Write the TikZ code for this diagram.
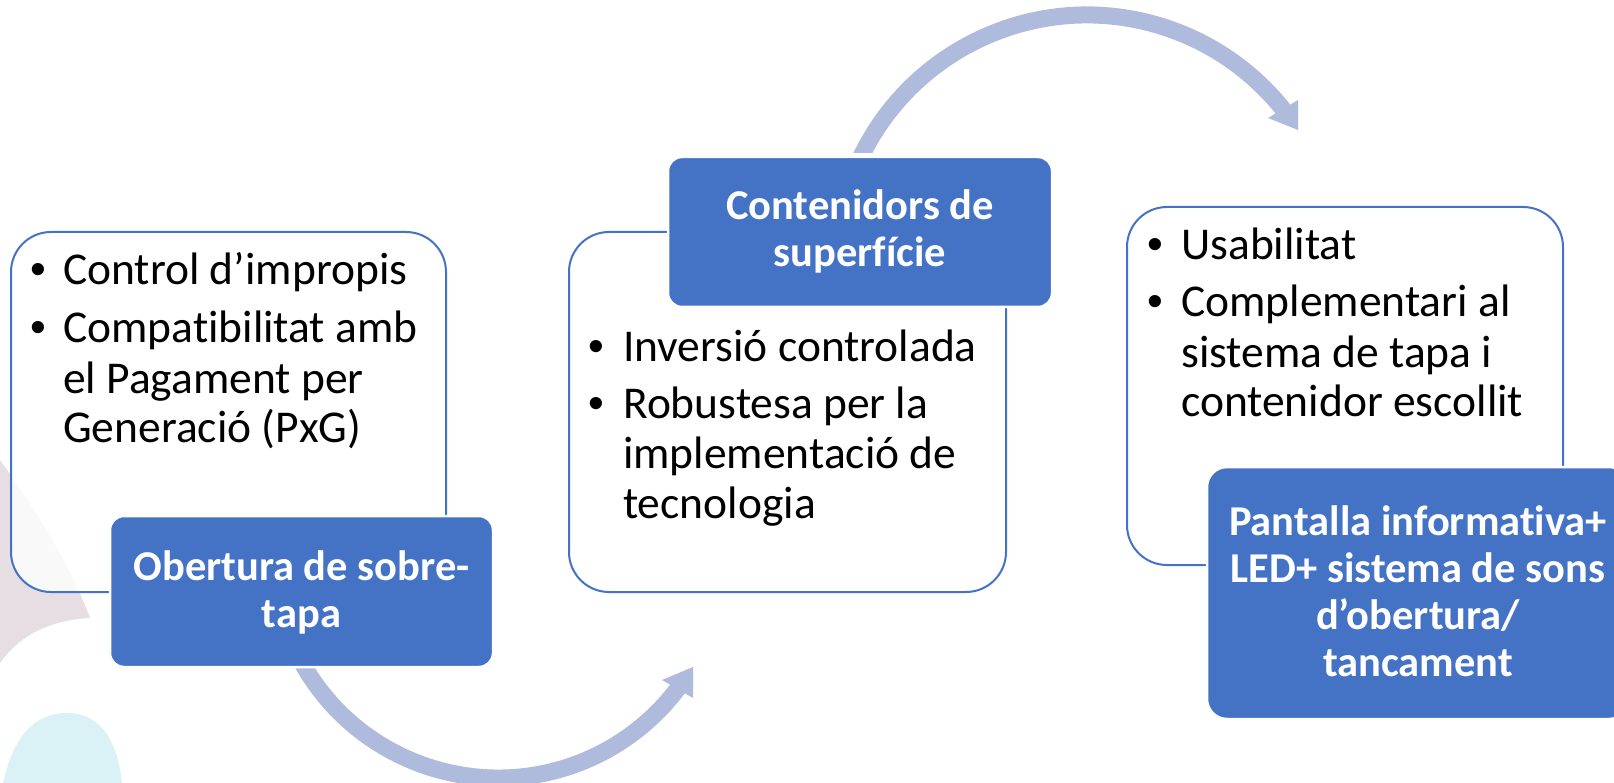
\documentclass[tikz,border=0pt]{standalone}
\usepackage{fontspec}
\setmainfont{Carlito}[Ligatures={NoCommon}]
\newfontfamily\bulletfont{Liberation Sans}
\definecolor{boxblue}{HTML}{4472C4}
\definecolor{arrowcol}{RGB}{175,187,220}
\definecolor{pinkbg}{RGB}{231,222,228}
\definecolor{cyanbg}{RGB}{218,241,245}
\tikzset{
  whitebox/.style={draw=boxblue, line width=2pt, fill=white, fill opacity=0.82, rounded corners=40pt, inner sep=0pt},
  bluebox/.style={draw=white, line width=2.5pt, fill=boxblue, rounded corners=14pt, inner sep=0pt},
  band/.style={draw=arrowcol, line width=17pt, line cap=butt},
  headfill/.style={fill=arrowcol, draw=none},
  bodytxt/.style={anchor=base west, inner sep=0pt, font=\fontsize{45.5}{50}\selectfont},
  bultxt/.style={anchor=base, inner sep=0pt, font=\bulletfont\fontsize{45}{50}\selectfont},
  headtxt/.style={anchor=base, inner sep=0pt, text=white, font=\bfseries\fontsize{42.5}{47}\selectfont}
}
\begin{document}
\begin{tikzpicture}[x=1pt,y=-1pt]
\useasboundingbox (0,0) rectangle (1614,783);
\clip (0,0) rectangle (1614,783);
\fill[white] (0,0) rectangle (1614,783);
% background decorations
\fill[pinkbg] (0,460) .. controls (40,515) and (72,570) .. (90,618)
  .. controls (50,620) and (20,635) .. (0,663) -- cycle;
\fill[cyanbg] (3,783) .. controls (14,735) and (35,713) .. (67,713)
  .. controls (103,713) and (118,745) .. (122,783) -- cycle;
% bottom curved arrow
\coordinate (bc) at (498.3,553.2);
\begin{scope}
  \clip (0,668) rectangle (1614,783);
  \draw[band] (bc) ++(156:224.8) arc[start angle=156, end angle=36.5, radius=224.8];
\end{scope}
\coordinate (bh1) at (662,680);
\coordinate (bh2) at (693,667);
\coordinate (bh3) at (693,698);
\fill[headfill] (bh1) -- (bh2) -- (bh3) -- cycle;
% top curved arrow
\coordinate (tc) at (1087,266);
\begin{scope}
  \clip (0,0) rectangle (1614,153);
  \draw[band] (tc) ++(200:251) arc[start angle=200, end angle=322, radius=251];
\end{scope}
\coordinate (th1) at (1268,118);
\coordinate (th2) at (1298,100);
\coordinate (th3) at (1298,130);
\fill[headfill] (th1) -- (th2) -- (th3) -- cycle;
% white boxes
\node[whitebox, minimum width=435pt, minimum height=360pt] (lw) at (228.5,412) {};
\node[whitebox, minimum width=437pt, minimum height=360pt] (mw) at (787.5,412) {};
\node[whitebox, minimum width=436pt, minimum height=358pt] (rw) at (1345,386) {};
% blue boxes
\node[bluebox, minimum width=383pt, minimum height=151pt] (lb) at (301.5,591.5) {};
\node[bluebox, minimum width=384pt, minimum height=150pt] (mb) at (860,232) {};
\node[bluebox, rounded corners=20pt, minimum width=422pt, minimum height=252pt] (rb) at (1418,593) {};
% left texts
\node[bultxt] (lbu1) at (38,285) {•};
\node[bultxt] (lbu2) at (38,343) {•};
\node[bodytxt] (lt1) at (63,285) {Control d’impropis};
\node[bodytxt] (lt2) at (63,343) {Compatibilitat amb};
\node[bodytxt] (lt3) at (63,393) {el Pagament per};
\node[bodytxt] (lt4) at (63,442) {Generació (PxG)};
\node[headtxt] (lh1) at (301.5,580) {Obertura de sobre-};
\node[headtxt] (lh2) at (301.5,627) {tapa};
% middle texts
\node[headtxt] (mh1) at (860,220) {Contenidors de};
\node[headtxt] (mh2) at (860,267) {superfície};
\node[bultxt] (mbu1) at (596,362) {•};
\node[bultxt] (mbu2) at (596,418) {•};
\node[bodytxt] (mt1) at (623,362) {Inversió controlada};
\node[bodytxt] (mt2) at (623,418) {Robustesa per la};
\node[bodytxt] (mt3) at (623,468) {implementació de};
\node[bodytxt] (mt4) at (623,518) {tecnologia};
% right texts
\node[bultxt] (rbu1) at (1155,260) {•};
\node[bultxt] (rbu2) at (1155,317) {•};
\node[bodytxt] (rt1) at (1181,260) {Usabilitat};
\node[bodytxt] (rt2) at (1181,317) {Complementari al};
\node[bodytxt] (rt3) at (1181,367) {sistema de tapa i};
\node[bodytxt] (rt4) at (1181,417) {contenidor escollit};
\node[headtxt] (rh1) at (1418,535) {Pantalla informativa+};
\node[headtxt] (rh2) at (1418,582) {LED+ sistema de sons};
\node[headtxt] (rh3) at (1418,629) {d’obertura/};
\node[headtxt] (rh4) at (1418,676) {tancament};
\end{tikzpicture}
\end{document}
